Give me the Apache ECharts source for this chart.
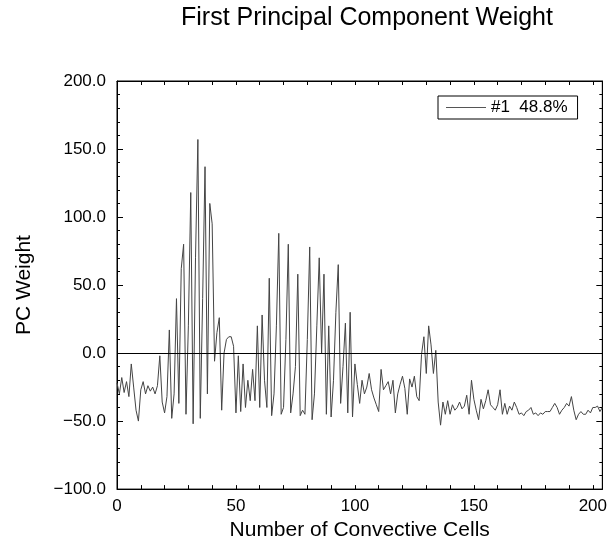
<!DOCTYPE html>
<html>
<head>
<meta charset="utf-8">
<script src="https://cdn.jsdelivr.net/npm/echarts@6/dist/echarts.min.js"></script>
<style>
html,body{margin:0;padding:0;background:#fff;}
#chart{width:610px;height:546px;}
</style>
</head>
<body>
<div id="chart"></div>
<script>
const chartTitle = "First Principal Component Weight";
const xTitle = "Number of Convective Cells";
const yTitle = "PC Weight";
const seriesName = "#1  48.8%";
const cells = [];
for (let i = 0; i <= 204; i++) cells.push(i);
const weights = [
  -22,-30,-18,-29,-21,-32,-8,-25,-42,-50,
  -27,-21,-30,-24,-28,-25,-30,-24,-2,-36,
  -44,-32,17,-48,-30,40,-37,62,80,-45,
  20,118,-52,70,157,-48,40,137,-30,110,
  95,-6,15,26,-42,0,10,12,12,5,
  -44,-2,-43,-8,-40,-20,-35,-12,-35,20,
  -40,28,-20,-40,55,-46,-30,20,88,-45,
  -40,10,80,-44,-30,-10,58,-46,-42,-45,
  10,78,-49,-30,20,70,0,58,-45,20,
  -47,-20,30,65,-37,-10,22,-44,30,-47,
  -8,-23,-37,-20,-30,-25,-15,-27,-33,-38,
  -43,-12,-27,-24,-21,-30,-20,-44,-30,-23,
  -17,-26,-45,-19,-25,-17,-32,-35,-1,12,
  -15,20,6,-15,2,-36,-53,-36,-45,-35,
  -45,-38,-42,-40,-36,-41,-39,-31,-45,-20,
  -34,-42,-49,-34,-41,-35,-27,-38,-40,-42,
  -38,-27,-45,-37,-45,-39,-42,-36,-40,-45,
  -44,-46,-43,-42,-40,-45,-44,-46,-44,-45,
  -43,-43,-43,-40,-37,-40,-45,-42,-40,-37,
  -39,-32,-42,-49,-45,-43,-45,-45,-42,-44,
  -40,-40,-39,-43,-40
];
const xMin = 0, xMax = 204, yMin = -100, yMax = 200;

const data = cells.map((c, i) => [c, weights[i]]);
const font = "Liberation Sans, Arial, Helvetica, sans-serif";
const yFmt = v => (v < 0 ? "\u2212" + Math.abs(v).toFixed(1) : v.toFixed(1));
const xFmt = v => (v % 50 === 0 ? String(v) : "");

const tickStyle = { color: "#000", width: 1 };
function xAxisDef(pos, showLabels) {
  return {
    type: "value", position: pos, min: xMin, max: xMax, interval: 10,
    axisLine: { show: true, onZero: false, lineStyle: { color: "#000", width: 1 } },
    axisTick: { show: true, inside: true, length: 4, lineStyle: tickStyle },
    axisLabel: { show: showLabels, formatter: xFmt, showMaxLabel: false, margin: 9,
      color: "#000", fontFamily: font, fontSize: 17 },
    splitLine: { show: false },
    name: showLabels ? xTitle : "", nameLocation: "middle", nameGap: 29,
    nameTextStyle: { color: "#000", fontFamily: font, fontSize: 21 }
  };
}
function yAxisDef(pos, showLabels) {
  return {
    type: "value", position: pos, min: yMin, max: yMax, interval: 50,
    axisLine: { show: true, onZero: false, lineStyle: { color: "#000", width: 1 } },
    axisTick: { show: true, inside: true, length: 6, lineStyle: tickStyle },
    minorTick: { show: true, splitNumber: 5, length: 3, lineStyle: tickStyle },
    axisLabel: { show: showLabels, formatter: yFmt, margin: 11,
      color: "#000", fontFamily: font, fontSize: 17 },
    splitLine: { show: false },
    name: showLabels ? yTitle : "", nameLocation: "middle", nameGap: 82,
    nameTextStyle: { color: "#000", fontFamily: font, fontSize: 21 }
  };
}

const chart = echarts.init(document.getElementById("chart"), null, { renderer: "canvas" });
chart.setOption({
  animation: false,
  backgroundColor: "#fff",
  graphic: [{
    type: "text", x: 367, y: 18.5,
    style: { text: chartTitle, fill: "#000", font: "25px " + font, textAlign: "center", textVerticalAlign: "middle" }
  }],
  grid: { left: 117, right: 2, top: 81, bottom: 49, show: true,
          borderColor: "#000", borderWidth: 1, backgroundColor: "transparent" },
  legend: {
    show: true, left: 438, top: 96, orient: "horizontal",
    borderColor: "#000", borderWidth: 1, padding: [3, 10, 3, 8],
    itemWidth: 40, itemHeight: 1, itemGap: 10,
    textStyle: { color: "#000", fontFamily: font, fontSize: 17 },
    data: [{ name: seriesName, icon: "rect", itemStyle: { color: "#555" } }]
  },
  xAxis: [xAxisDef("bottom", true), xAxisDef("top", false)],
  yAxis: [yAxisDef("left", true), yAxisDef("right", false)],
  series: [{
    name: seriesName, type: "line", data: data, symbol: "none",
    xAxisIndex: 0, yAxisIndex: 0,
    lineStyle: { color: "#444", width: 1 },
    markLine: {
      silent: true, symbol: "none", label: { show: false },
      lineStyle: { color: "#000", width: 1, type: "solid" },
      data: [{ yAxis: 0 }]
    }
  }]
});
</script>
</body>
</html>
